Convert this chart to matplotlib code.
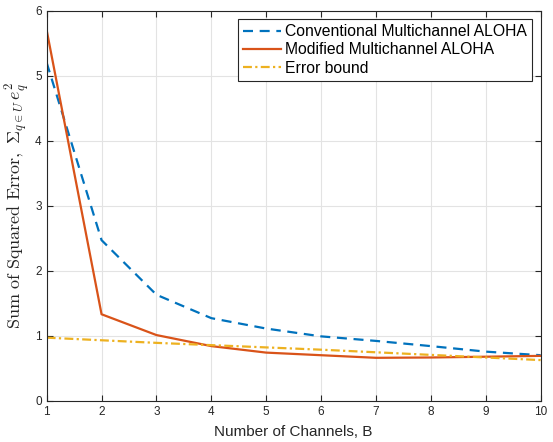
import numpy as np
import matplotlib
matplotlib.use('Agg')
import matplotlib.pyplot as plt

plt.rcParams['font.family'] = ['Liberation Sans', 'DejaVu Sans']
plt.rcParams['mathtext.fontset'] = 'cm'

# Data
channels = [1, 2, 3, 4, 5, 6, 7, 8, 9, 10]
conventional = [5.2, 2.47, 1.63, 1.27, 1.11, 0.99, 0.92, 0.84, 0.755, 0.70]
modified = [5.7, 1.33, 1.01, 0.84, 0.74, 0.70, 0.66, 0.665, 0.677, 0.69]
error_bound = [0.97, 0.93, 0.89, 0.855, 0.82, 0.785, 0.745, 0.705, 0.665, 0.625]
labels = ['Conventional Multichannel ALOHA', 'Modified Multichannel ALOHA', 'Error bound']

fig = plt.figure(figsize=(5.53, 4.42), dpi=100)
ax = fig.add_axes([0.0844, 0.0934, 0.8933, 0.8824])

ax.plot(channels, conventional, '--', color='#0072BD', lw=1.6, dashes=(4.5, 3), label=labels[0])
ax.plot(channels, modified, '-', color='#D95319', lw=1.6, label=labels[1])
ax.plot(channels, error_bound, '-.', color='#EDB120', lw=1.6, dashes=(4, 1.5, 1, 1.5), label=labels[2])

ax.set_xlim(1, 10)
ax.set_ylim(0, 6)
ax.set_xticks(range(1, 11))
ax.set_yticks(range(0, 7))
ax.grid(True, color='#e3e3e3', lw=0.8)
ax.set_axisbelow(True)

for s in ax.spines.values():
    s.set_color('#262626')
    s.set_linewidth(0.8)
ax.tick_params(direction='in', top=True, right=True, length=4, width=0.8,
               color='#262626', labelsize=8.5, labelcolor='#262626')

ax.set_xlabel('Number of Channels, B', fontsize=11, color='#262626', labelpad=5)
ax.set_ylabel(r'$\mathrm{Sum\ of\ Squared\ Error,}\ \Sigma_{q\in U}\, e_q^2$',
              fontsize=13, color='#262626', labelpad=2)

leg = ax.legend(loc='upper right', fontsize=11.3, frameon=True, fancybox=False,
                framealpha=1, edgecolor='#262626', handlelength=2.4,
                borderpad=0.3, labelspacing=0.22, handletextpad=0.3,
                borderaxespad=0.55)
leg.get_frame().set_linewidth(0.8)

fig.savefig('out.png', dpi=100)
